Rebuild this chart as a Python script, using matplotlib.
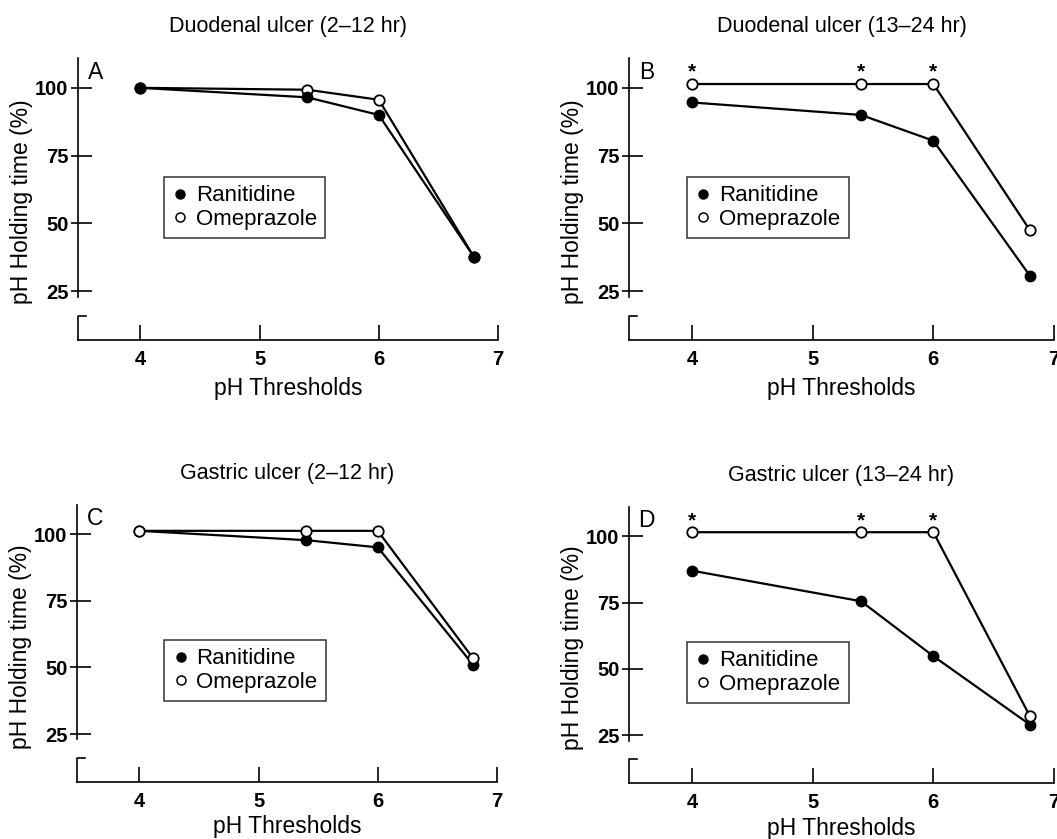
import matplotlib
matplotlib.use('Agg')
from matplotlib import pyplot as plt
from matplotlib.lines import Line2D

plt.rcParams['font.family'] = ['Liberation Sans', 'DejaVu Sans']

ph = [4, 5.4, 6, 6.8]
titles = ['Duodenal ulcer (2\u201312 hr)', 'Duodenal ulcer (13\u201324 hr)',
          'Gastric ulcer (2\u201312 hr)', 'Gastric ulcer (13\u201324 hr)']
letters = ['A', 'B', 'C', 'D']

ranitidine = [
    [100, 96.5, 90, 37.5],
    [94.6, 90, 80.5, 30.7],
    [101.3, 97.8, 95.1, 51],
    [87, 75.5, 54.8, 29],
]
omeprazole = [
    [100, 99.3, 95.6, 37.5],
    [101.4, 101.4, 101.4, 47.5],
    [101.3, 101.3, 101.3, 53.4],
    [101.5, 101.5, 101.5, 32.2],
]
significant = [
    [False, False, False, False],
    [True, True, True, False],
    [False, False, False, False],
    [True, True, True, False],
]
rani_on_top = [True, False, False, False]

xticks = [4, 5, 6, 7]
yticks = [25, 50, 75, 100]

W, H = 1057, 839
# pixel boxes: left, right, top, bottom
boxes = [(78, 498, 58, 340), (629, 1054, 58, 340),
         (77, 497, 505, 782), (629, 1054, 507, 783)]
legend_pos = [(0.205, 0.578), (0.137, 0.578), (0.208, 0.513), (0.137, 0.511)]
xlabel_drop = [48, 48, 45, 45]

fig = plt.figure(figsize=(W / 100, H / 100), dpi=100)

for i in range(4):
    l, r, t, b = boxes[i]
    ax = fig.add_axes([l / W, 1 - b / H, (r - l) / W, (b - t) / H])
    ax.set_xlim(3.477, 7.0)
    ax.set_ylim(7, 111)

    z_r, z_o = (4, 3) if rani_on_top[i] else (3, 4)
    ax.plot(ph, omeprazole[i], '-o', color='k', lw=1.6, ms=7.5,
            mfc='white', mec='k', mew=1.3, zorder=z_o, clip_on=False)
    ax.plot(ph, ranitidine[i], '-o', color='k', lw=1.6, ms=7.5,
            mfc='k', mec='k', zorder=z_r, clip_on=False)

    for x, y, s in zip(ph, omeprazole[i], significant[i]):
        if s:
            ax.annotate('*', (x, y), xytext=(0, 8.5), textcoords='offset points',
                        ha='center', va='center', fontsize=15, fontweight='bold')

    for side in ['top', 'right']:
        ax.spines[side].set_visible(False)
    ax.spines['left'].set_bounds(23, 111)
    ax.spines['left'].set_linewidth(1.2)
    ax.spines['bottom'].set_linewidth(1.2)
    # lower piece of the broken y axis
    tr = ax.get_yaxis_transform()
    ax.plot([0, 0, 8 / (r - l)], [7, 16, 16], color='k', lw=1.2,
            transform=tr, clip_on=False)

    ax.set_xticks(xticks)
    ax.set_yticks(yticks)
    ax.set_yticks(yticks, minor=True)
    ax.yaxis.remove_overlapping_locs = False
    ax.tick_params(axis='x', direction='in', length=11, width=1.2, pad=7,
                   labelsize=14.5)
    ax.tick_params(axis='y', which='major', direction='in', length=10,
                   width=1.2, pad=7, labelsize=14.5)
    ax.tick_params(axis='y', which='minor', direction='out', length=5,
                   width=1.2, labelleft=False)
    for lab in ax.get_xticklabels() + ax.get_yticklabels():
        lab.set_fontweight('bold')

    ax.set_xlabel('pH Thresholds', fontsize=16.5, va='center')
    ax.xaxis.set_label_coords(0.5, -xlabel_drop[i] / (b - t))
    ax.set_ylabel('pH Holding time (%)', fontsize=16.5)
    ax.yaxis.set_label_coords(-45 / (r - l), 0.49)
    ax.annotate(titles[i], (0.5, 1), xycoords='axes fraction', xytext=(0, 23),
                textcoords='offset points', ha='center', va='center', fontsize=15.5)
    ax.text(0.042, 0.95, letters[i], transform=ax.transAxes, ha='center',
            va='center', fontsize=16.5)

    handles = [Line2D([], [], ls='none', marker='o', ms=6.5, mfc='k', mec='k'),
               Line2D([], [], ls='none', marker='o', ms=6.5, mfc='white', mec='k', mew=1.1)]
    leg = ax.legend(handles, ['Ranitidine', 'Omeprazole'], loc='upper left',
                    bbox_to_anchor=legend_pos[i], borderaxespad=0, fontsize=16,
                    frameon=True, fancybox=False, handlelength=0.7,
                    handletextpad=0.35, labelspacing=0.1, borderpad=0.38)
    leg.get_frame().set_edgecolor('k')
    leg.get_frame().set_linewidth(1.1)

fig.savefig('out.png', dpi=100)
